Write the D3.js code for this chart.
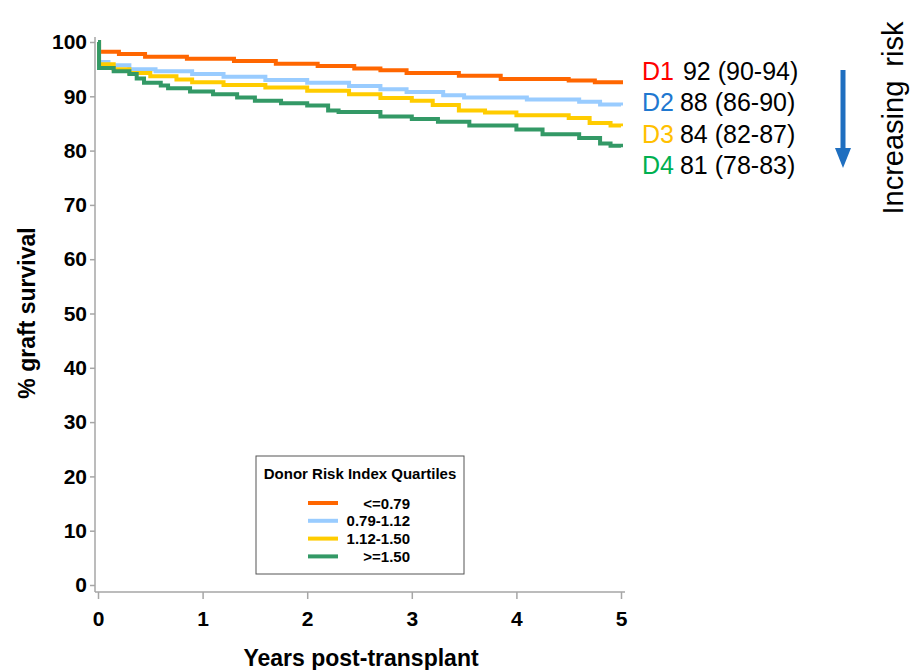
<!DOCTYPE html>
<html><head><meta charset="utf-8">
<script src="https://cdn.jsdelivr.net/npm/d3@7"></script>
<style>body{margin:0;background:#fff;} text{font-family:"Liberation Sans",Arial,sans-serif;}</style>
</head><body><svg id="c" width="910" height="670"></svg>
<script>
const xTicks = [0,1,2,3,4,5];
const yTicks = [0,10,20,30,40,50,60,70,80,90,100];
const seriesNames = ["<=0.79","0.79-1.12","1.12-1.50",">=1.50"];
const seriesColors = ["#FF6600","#99CCFF","#FFCC00","#339966"];
const d1 = [[0,100],[0.01,98.2],[0.2,97.8],[0.45,97.3],[0.85,96.9],[1.3,96.5],[1.7,96.0],[2.1,95.6],[2.45,95.1],[2.7,94.8],[2.95,94.3],[3.45,93.8],[3.85,93.2],[4.5,92.9],[4.75,92.6],[5,92.2]];
const d2 = [[0,100],[0.01,96.3],[0.1,95.7],[0.3,95.0],[0.55,94.6],[0.9,94.1],[1.2,93.6],[1.6,93.0],[2.0,92.5],[2.4,91.9],[2.7,91.3],[2.95,90.8],[3.3,90.2],[3.5,89.8],[4.1,89.4],[4.6,89.0],[4.8,88.5],[5,88.3]];
const d3v = [[0,100],[0.01,95.9],[0.15,95.0],[0.3,94.3],[0.5,93.7],[0.75,93.1],[0.9,92.6],[1.2,92.1],[1.6,91.6],[2.0,91.0],[2.4,90.4],[2.7,89.7],[3.0,89.2],[3.2,88.4],[3.45,87.4],[3.7,87.0],[4.0,86.5],[4.5,86.0],[4.7,85.1],[4.9,84.6],[5,84.5]];
const d4 = [[0,100],[0.01,95.2],[0.15,94.6],[0.3,94.1],[0.37,93.3],[0.44,92.5],[0.6,92.0],[0.67,91.5],[0.88,90.9],[1.1,90.4],[1.33,89.8],[1.5,89.2],[1.75,88.7],[2.0,88.3],[2.2,87.4],[2.3,87.1],[2.7,86.3],[3.0,85.8],[3.25,85.3],[3.55,84.6],[4.0,83.9],[4.25,83.0],[4.6,82.3],[4.8,81.3],[4.9,80.9],[5,80.6]];
const annoLabels = ["D1","D2","D3","D4"];
const annoColors = ["#FF0000","#1F78D0","#FFC000","#00B050"];
const annoValues = ["92 (90-94)","88 (86-90)","84 (82-87)","81 (78-83)"];

const svg = d3.select("#c");
const x = d3.scaleLinear().domain([0,5]).range([98,621]);
const y = d3.scaleLinear().domain([0,100]).range([585,42]);
const axisColor = "#A6A6A6";
const tickFont = "Liberation Sans, Arial, sans-serif";

// y axis
const ya = svg.append("g").attr("transform","translate(95,0)")
  .call(d3.axisLeft(y).tickValues(yTicks).tickSize(5).tickPadding(3));
ya.select(".domain").remove();
ya.append("line").attr("x1",0).attr("x2",0).attr("y1",37).attr("y2",592).attr("stroke",axisColor).attr("stroke-width",1.5);
ya.selectAll(".tick line").attr("stroke",axisColor).attr("stroke-width",1.5);
ya.selectAll(".tick text").attr("fill","#000").style("font-size","21px").style("font-weight","bold").style("font-family",tickFont);

// x axis
const xa = svg.append("g").attr("transform","translate(0,592)")
  .call(d3.axisBottom(x).tickValues(xTicks).tickFormat(d3.format("d")).tickSize(7).tickPadding(12));
xa.select(".domain").remove();
xa.append("line").attr("x1",95).attr("x2",625).attr("y1",0).attr("y2",0).attr("stroke",axisColor).attr("stroke-width",1.5);
xa.selectAll(".tick line").attr("stroke",axisColor).attr("stroke-width",1.5);
xa.selectAll(".tick text").attr("fill","#000").style("font-size","21px").style("font-weight","bold").style("font-family",tickFont);

// titles
svg.append("text").attr("x",361).attr("y",666).attr("text-anchor","middle")
  .style("font-size","23px").style("font-weight","bold").text("Years post-transplant");
svg.append("text").attr("transform","translate(35,313) rotate(-90)").attr("text-anchor","middle")
  .style("font-size","23px").style("font-weight","bold").text("% graft survival");

// curves
const line = d3.line().x(d=>x(d[0])).y(d=>y(d[1])).curve(d3.curveStepAfter);
const allSeries = [d1,d2,d3v,d4];
allSeries.forEach((s,i)=>{
  svg.append("path").datum(s).attr("d",line).attr("fill","none")
    .attr("stroke",seriesColors[i]).attr("stroke-width",4).attr("stroke-linejoin","miter");
});

// legend
const lg = svg.append("g");
lg.append("rect").attr("x",256).attr("y",456).attr("width",208).attr("height",118)
  .attr("fill","#fff").attr("stroke","#555").attr("stroke-width",1);
lg.append("text").attr("x",360).attr("y",479).attr("text-anchor","middle")
  .style("font-size","15px").style("font-weight","bold").text("Donor Risk Index Quartiles");
seriesNames.forEach((n,i)=>{
  const yy = 503 + i*17.8;
  lg.append("line").attr("x1",308).attr("x2",338).attr("y1",yy).attr("y2",yy)
    .attr("stroke",seriesColors[i]).attr("stroke-width",4);
  lg.append("text").attr("x",410).attr("y",yy+5.5).attr("text-anchor","end")
    .style("font-size","15px").style("font-weight","bold").text(n);
});

// annotations
annoLabels.forEach((l,i)=>{
  const t = svg.append("text").attr("x",642).attr("y",80+i*31.3).style("font-size","25px");
  t.append("tspan").attr("fill",annoColors[i]).text(l);
  t.append("tspan").attr("fill","#000").attr("dx",i===0?9:6).text(annoValues[i]);
});

// arrow
svg.append("line").attr("x1",843).attr("x2",843).attr("y1",70).attr("y2",150)
  .attr("stroke","#1F6FC0").attr("stroke-width",5);
svg.append("path").attr("d","M835,148 L851,148 L843,168 Z").attr("fill","#1F6FC0");

svg.append("text").attr("transform","translate(903,118) rotate(-90)").attr("text-anchor","middle")
  .style("font-size","29px").attr("fill","#000").style("word-spacing","6px").text("Increasing risk");
</script></body></html>
